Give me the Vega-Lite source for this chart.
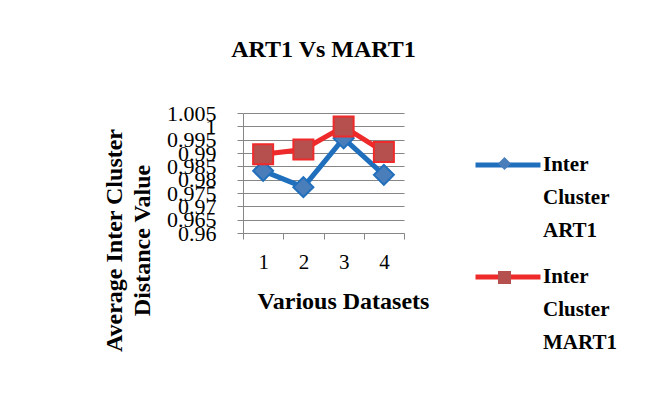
{
  "$schema": "https://vega.github.io/schema/vega-lite/v6.json",
  "width": 161,
  "height": 120,
  "autosize": "none",
  "padding": {"left": 243, "top": 113, "right": 246, "bottom": 186},
  "background": "white",
  "title": {
    "text": "ART1 Vs MART1",
    "font": "Liberation Serif",
    "fontSize": 24,
    "fontWeight": "bold",
    "color": "#000000",
    "anchor": "middle",
    "offset": 40
  },
  "data": {
    "values": [
      {"dataset": "1", "series": "Inter Cluster ART1", "value": 0.9833},
      {"dataset": "2", "series": "Inter Cluster ART1", "value": 0.9772},
      {"dataset": "3", "series": "Inter Cluster ART1", "value": 0.9955},
      {"dataset": "4", "series": "Inter Cluster ART1", "value": 0.9818},
      {"dataset": "1", "series": "Inter Cluster MART1", "value": 0.9895},
      {"dataset": "2", "series": "Inter Cluster MART1", "value": 0.9913},
      {"dataset": "3", "series": "Inter Cluster MART1", "value": 0.9999},
      {"dataset": "4", "series": "Inter Cluster MART1", "value": 0.9904}
    ]
  },
  "encoding": {
    "x": {
      "field": "dataset",
      "type": "ordinal",
      "scale": {"type": "band", "paddingInner": 0, "paddingOuter": 0},
      "axis": {
        "title": "Various Datasets",
        "titleFont": "Liberation Serif",
        "titleFontSize": 24,
        "titleFontWeight": "bold",
        "titleColor": "#000000",
        "titleX": 100,
        "titleY": 75,
        "titleAlign": "center",
        "titleBaseline": "alphabetic",
        "labelAngle": 0,
        "labelFont": "Liberation Serif",
        "labelFontSize": 21,
        "labelColor": "#000000",
        "labelPadding": 12,
        "tickBand": "extent",
        "tickSize": 6,
        "tickColor": "#868686",
        "domainColor": "#868686",
        "grid": false
      }
    },
    "y": {
      "field": "value",
      "type": "quantitative",
      "scale": {"domain": [0.96, 1.005], "nice": false, "zero": false},
      "axis": {
        "values": [0.96, 0.965, 0.97, 0.975, 0.98, 0.985, 0.99, 0.995, 1, 1.005],
        "format": ".4~f",
        "title": ["Average Inter Cluster", "Distance Value"],
        "titleFont": "Liberation Serif",
        "titleFontSize": 24,
        "titleFontWeight": "bold",
        "titleColor": "#000000",
        "titleAngle": -90,
        "titleX": -129,
        "titleY": 127,
        "titleAlign": "center",
        "titleBaseline": "middle",
        "titleLineHeight": 28,
        "labelFont": "Liberation Serif",
        "labelFontSize": 22,
        "labelColor": "#000000",
        "labelPadding": 21,
        "labelOverlap": false,
        "labelFlush": false,
        "tickSize": 6,
        "tickColor": "#868686",
        "domainColor": "#868686",
        "gridColor": "#868686",
        "gridOpacity": 1
      }
    }
  },
  "layer": [
    {
      "mark": {"type": "line", "strokeWidth": 5},
      "encoding": {
        "stroke": {
          "field": "series",
          "type": "nominal",
          "scale": {"domain": ["Inter Cluster ART1", "Inter Cluster MART1"], "range": ["#1f6fbd", "#ee2a2a"]},
          "legend": {
            "orient": "none",
            "legendX": 230,
            "legendY": 17,
            "title": null,
            "symbolType": "stroke",
            "symbolSize": 4225,
            "symbolStrokeWidth": 5,
            "labelExpr": "split(datum.label, ' ')",
            "labelFont": "Liberation Serif",
            "labelFontSize": 21,
            "labelFontWeight": "bold",
            "labelColor": "#000000",
            "labelLimit": 0,
            "labelOffset": 0,
            "labelBaseline": "middle",
            "rowPadding": 1,
            "encode": {
              "labels": {"update": {"lineHeight": {"value": 33}}}
            }
          }
        }
      }
    },
    {
      "mark": {"type": "point", "filled": true, "size": 400, "strokeWidth": 2, "opacity": 1},
      "encoding": {
        "shape": {
          "field": "series",
          "type": "nominal",
          "scale": {"range": ["diamond", "square"]},
          "legend": {
            "orient": "none",
            "legendX": 251,
            "legendY": 40,
            "title": null,
            "symbolSize": 169,
            "labelExpr": "split(datum.label, ' ')",
            "labelFont": "Liberation Serif",
            "labelFontSize": 21,
            "labelFontWeight": "bold",
            "labelColor": "transparent",
            "labelLimit": 0,
            "labelOffset": 0,
            "labelBaseline": "middle",
            "rowPadding": 46,
            "encode": {
              "labels": {"update": {"lineHeight": {"value": 33}}},
              "symbols": {
                "update": {
                  "fill": {"signal": "datum.value == 'Inter Cluster ART1' ? '#4a7ebb' : '#b5504f'"},
                  "stroke": {"signal": "datum.value == 'Inter Cluster ART1' ? '#1f6fbd' : '#ee2a2a'"},
                  "strokeWidth": {"value": 2},
                  "opacity": {"value": 1}
                }
              }
            }
          }
        },
        "fill": {
          "field": "series",
          "type": "nominal",
          "scale": {"range": ["#4a7ebb", "#b5504f"]},
          "legend": null
        },
        "stroke": {
          "field": "series",
          "type": "nominal",
          "scale": {"domain": ["Inter Cluster ART1", "Inter Cluster MART1"], "range": ["#1f6fbd", "#ee2a2a"]},
          "legend": null
        }
      }
    }
  ],
  "config": {
    "view": {"stroke": null}
  }
}
